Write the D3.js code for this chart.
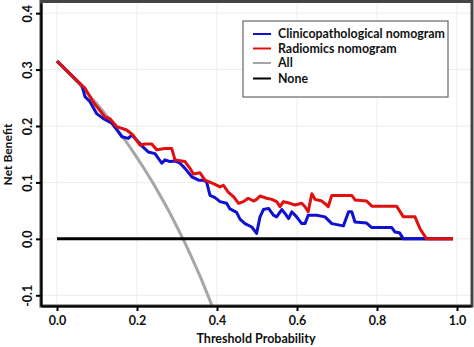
<!DOCTYPE html>
<html><head><meta charset="utf-8">
<script src="https://cdn.jsdelivr.net/npm/d3@7"></script>
<style>body{margin:0;background:#fff}svg{display:block}text{font-family:Lato,"Open Sans",sans-serif;font-weight:bold}</style>
</head><body><svg id="c" width="474" height="347"></svg>
<script>
const xTicks=[0,0.2,0.4,0.6,0.8,1.0];
const yTicks=[-0.1,0,0.1,0.2,0.3,0.4];
const seriesNames=["Clinicopathological nomogram","Radiomics nomogram","All","None"];
const seriesColors=["#1010d0","#e01010","#a6a6a6","#000000"];
const clinico=[[0,.315],[.062,.272],[.07,.252],[.0825,.243],[.099,.222],[.116,.213],[.137,.205],[.153,.19],[.162,.181],[.178,.178],[.187,.184],[.199,.175],[.2075,.169],[.216,.162],[.228,.154],[.245,.151],[.262,.134],[.27,.14],[.2825,.137],[.295,.138],[.3075,.134],[.32,.125],[.337,.11],[.354,.104],[.366,.104],[.374,.101],[.3825,.077],[.395,.073],[.4075,.066],[.424,.063],[.4325,.053],[.449,.047],[.4575,.035],[.47,.027],[.487,.021],[.499,.0096],[.5075,.039],[.516,.052],[.529,.054],[.541,.042],[.549,.039],[.562,.052],[.57,.045],[.579,.036],[.587,.048],[.599,.039],[.612,.027],[.62,.027],[.628,.042],[.649,.042],[.67,.039],[.687,.027],[.716,.023],[.729,.048],[.737,.048],[.745,.030],[.774,.028],[.787,.020],[.837,.020],[.845,.012],[.856,.011],[.866,0],[.99,0]];
const radiomics=[[0,.315],[.062,.272],[.07,.267],[.09,.243],[.12,.216],[.1325,.213],[.149,.199],[.174,.193],[.19,.184],[.2075,.166],[.22,.168],[.237,.168],[.249,.158],[.27,.160],[.287,.160],[.295,.14],[.312,.138],[.32,.137],[.3325,.125],[.341,.115],[.3575,.117],[.37,.104],[.391,.098],[.4075,.092],[.416,.095],[.428,.083],[.441,.075],[.454,.063],[.466,.066],[.478,.072],[.491,.067],[.499,.070],[.5075,.076],[.524,.072],[.537,.070],[.549,.066],[.5575,.057],[.566,.066],[.5825,.063],[.595,.060],[.612,.063],[.62,.057],[.628,.048],[.637,.080],[.645,.070],[.662,.067],[.674,.060],[.678,.057],[.687,.077],[.737,.077],[.745,.069],[.774,.067],[.787,.058],[.849,.058],[.866,.039],[.895,.039],[.9075,.018],[.924,0],[.99,0]];
const treatAll=[[0,.315],[.02,.301],[.04,.286],[.06,.271],[.08,.255],[.10,.239],[.12,.222],[.14,.203],[.16,.185],[.18,.165],[.20,.144],[.22,.122],[.24,.099],[.26,.074],[.28,.049],[.30,.021],[.32,-.007],[.34,-.038],[.36,-.070],[.38,-.105],[.39,-.123]];
const treatNone=[[0,0],[.99,0]];

const svg=d3.select("#c");
const L=41,R=471,T=3,B=306;
const x=d3.scaleLinear().domain([-0.04,1.035]).range([L,R]);
const y=d3.scaleLinear().domain([-0.119,0.418]).range([B,T]);

svg.append("g").selectAll("line").data(xTicks).join("line")
 .attr("x1",d=>x(d)).attr("x2",d=>x(d)).attr("y1",T).attr("y2",B).attr("stroke","#ececec").attr("stroke-width",1);
svg.append("g").selectAll("line").data(yTicks).join("line")
 .attr("x1",L).attr("x2",R).attr("y1",d=>y(d)).attr("y2",d=>y(d)).attr("stroke","#ececec").attr("stroke-width",1);

svg.append("defs").append("clipPath").attr("id","clip").append("rect").attr("x",L).attr("y",T).attr("width",R-L).attr("height",B-T);
const line=d3.line().x(d=>x(d[0])).y(d=>y(d[1]));
const plot=svg.append("g").attr("clip-path","url(#clip)");
[[treatAll,2],[treatNone,3],[clinico,0],[radiomics,1]].forEach(([data,idx])=>{
  plot.append("path").datum(data).attr("d",line).attr("fill","none")
   .attr("stroke",seriesColors[idx]).attr("stroke-width",3).attr("stroke-linejoin","round");
});

svg.append("rect").attr("x",L).attr("y",1.5).attr("width",R-L+1).attr("height",B-1.5).attr("fill","none").attr("stroke","#444").attr("stroke-width",3);

const xa=svg.append("g").attr("transform",`translate(0,${B})`)
 .call(d3.axisBottom(x).tickValues(xTicks).tickFormat(d3.format(".1f")).tickSize(5).tickSizeOuter(0));
xa.select(".domain").attr("stroke","#000").attr("stroke-width",2);
xa.selectAll(".tick line").attr("stroke","#000").attr("stroke-width",2);
xa.selectAll(".tick text").attr("font-size",12.5).attr("font-family","Lato").attr("font-weight","bold").attr("fill","#111").attr("dy","0.9em");

const ya=svg.append("g").attr("transform",`translate(${L},0)`)
 .call(d3.axisLeft(y).tickValues(yTicks).tickFormat(d=>d3.format(".1f")(d).replace("−","-")).tickSize(5).tickSizeOuter(0));
ya.select(".domain").attr("stroke","#000").attr("stroke-width",2);
ya.selectAll(".tick line").attr("stroke","#000").attr("stroke-width",2);
ya.selectAll(".tick text").attr("font-size",12.5).attr("font-family","Lato").attr("font-weight","bold").attr("fill","#111")
 .attr("transform","rotate(-90)").attr("x",0).attr("y",-9).attr("dy",0).attr("text-anchor","middle");

svg.append("text").attr("x",(L+R)/2).attr("y",343).attr("text-anchor","middle").attr("font-size",12.5).attr("fill","#111").text("Threshold Probability");
svg.append("text").attr("transform",`translate(12,${(T+B)/2}) rotate(-90)`).attr("text-anchor","middle").attr("font-size",12).attr("fill","#111").text("Net Benefit");

const lg=svg.append("g");
lg.append("rect").attr("x",243).attr("y",21).attr("width",205).attr("height",76).attr("fill","#fff").attr("stroke","#666").attr("stroke-width",1.2);
const ly=[34,48.5,63,78.5];
seriesNames.forEach((n,i)=>{
  lg.append("line").attr("x1",253).attr("x2",271).attr("y1",ly[i]).attr("y2",ly[i]).attr("stroke",seriesColors[i]).attr("stroke-width",2);
  lg.append("text").attr("x",278).attr("y",ly[i]).attr("dy","0.35em").attr("font-size",12.4).attr("fill","#111").text(n);
});
</script></body></html>
